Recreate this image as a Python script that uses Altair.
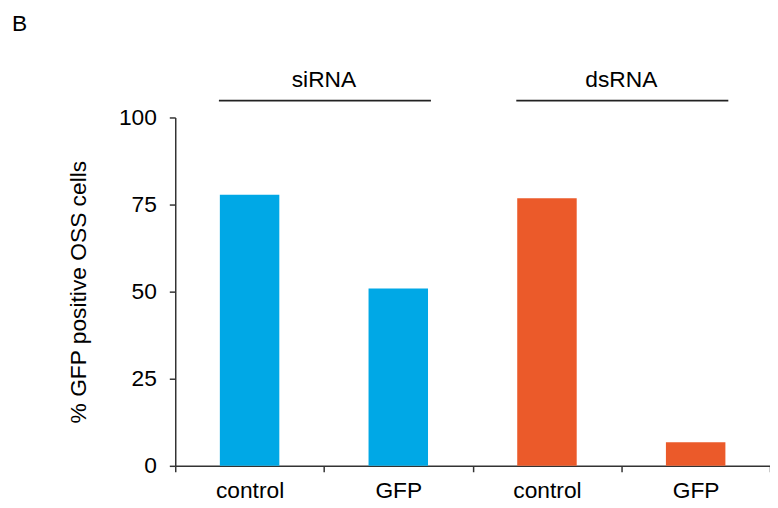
import altair as alt
import pandas as pd

# ---- data ----
panel_label = ["B"]
treatments = ["siRNA", "siRNA", "dsRNA", "dsRNA"]
targets = ["control", "GFP", "control", "GFP"]
percent_gfp = [77.8, 50.9, 76.8, 6.8]
group_names = ["siRNA", "dsRNA"]
group_first = ["siRNA control", "dsRNA control"]
group_last = ["siRNA GFP", "dsRNA GFP"]
y_ticks = [0, 25, 50, 75, 100]
colors = ["#00A8E6", "#EB5A2A"]

bars_df = pd.DataFrame({"treatment": treatments, "target": targets, "value": percent_gfp})
bars_df["key"] = bars_df["treatment"] + " " + bars_df["target"]
order = list(bars_df["key"])
groups_df = pd.DataFrame({"name": group_names, "first": group_first, "last": group_last})
panel_df = pd.DataFrame({"label": panel_label})

FONT = "Liberation Sans"
FS = 23
x_scale = alt.Scale(domain=order, paddingInner=0, paddingOuter=0, align=0)
y_scale = alt.Scale(domain=[0, 100], nice=False)
x_axis = alt.Axis(labelExpr="split(datum.label, ' ')[1]", labelAngle=0,
                  tickBand="extent", labelPadding=8, tickSize=6)

bars = alt.Chart(bars_df).mark_bar(width=alt.RelativeBandSize(0.4)).encode(
    x=alt.X("key:N", scale=x_scale, sort=order, title=None, axis=x_axis),
    y=alt.Y("value:Q", scale=y_scale,
            axis=alt.Axis(values=y_ticks, title="% GFP positive OSS cells", grid=False,
                          labelPadding=13, titlePadding=28, tickSize=6)),
    color=alt.Color("treatment:N", scale=alt.Scale(domain=group_names, range=colors), legend=None),
)

rules = alt.Chart(groups_df).mark_rule(color="#222222", strokeWidth=1.8, xOffset=-31, x2Offset=33).encode(
    x=alt.X("first:N", scale=x_scale, title=None, axis=x_axis),
    x2="last:N",
    y=alt.value(-17),
)

group_text = alt.Chart(groups_df).mark_text(fontSize=FS, font=FONT, align="center",
                                            baseline="middle", color="black").encode(
    x=alt.X("first:N", scale=x_scale, bandPosition=1, title=None, axis=x_axis),
    y=alt.value(-38),
    text="name:N",
)

panel = alt.Chart(panel_df).mark_text(fontSize=FS, font=FONT, align="left",
                                      baseline="middle", color="black").encode(
    x=alt.value(-165),
    y=alt.value(-94),
    text="label:N",
)

chart = alt.layer(bars, rules, group_text, panel).properties(
    width=601, height=352,
    autosize=alt.AutoSizeParams(type="none"),
    padding={"left": 169, "top": 108, "right": 0, "bottom": 40},
).configure_view(stroke="transparent").configure_axis(
    domainColor="#333333", domainWidth=1.5, tickColor="#333333", tickWidth=1.5,
    labelFont=FONT, labelFontSize=FS, labelColor="black",
    titleFont=FONT, titleFontSize=FS, titleFontWeight="normal", titleColor="black",
)

chart.save("out.html", embed_options={"renderer": "svg", "actions": False})
